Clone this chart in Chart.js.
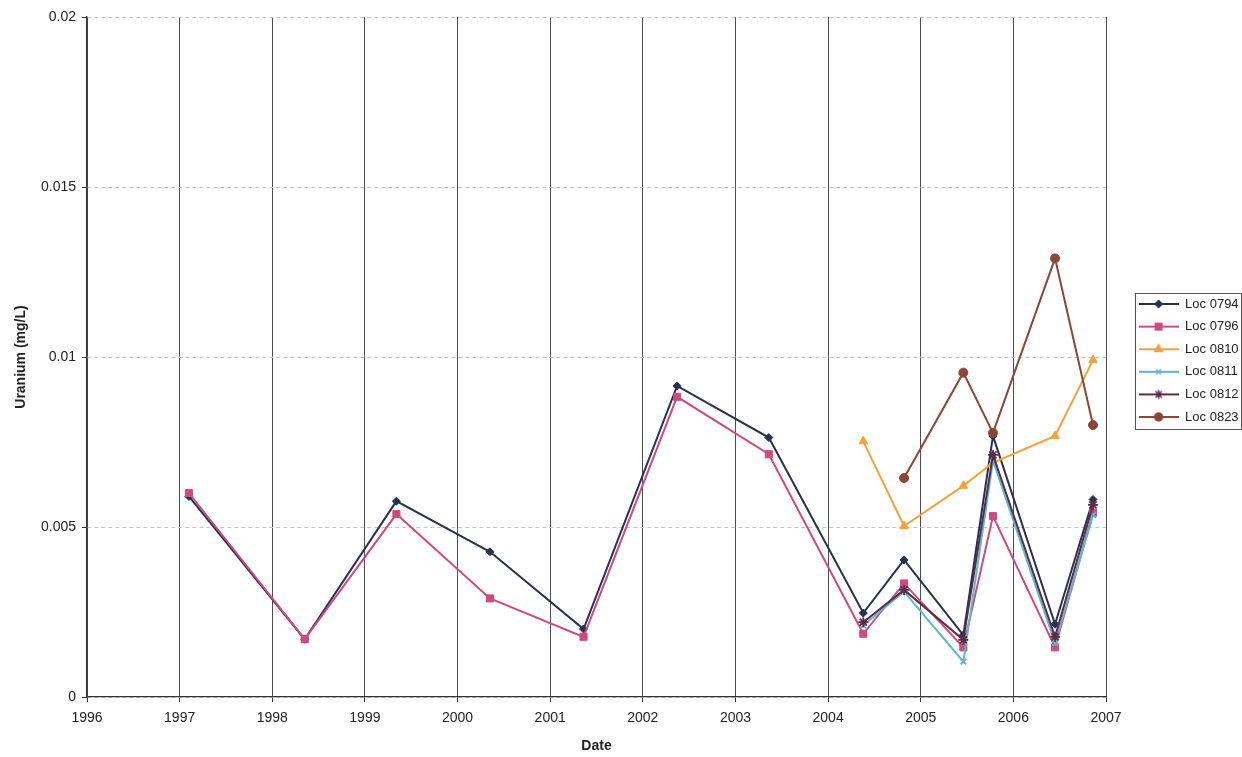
<!DOCTYPE html>
<html>
<head>
<meta charset="utf-8">
<title>Uranium concentration</title>
<script src="https://cdn.jsdelivr.net/npm/chart.js@4.4.1/dist/chart.umd.min.js"></script>
<style>
  html, body { margin: 0; padding: 0; background: #ffffff; }
  #wrap { width: 1242px; height: 757px; }
</style>
</head>
<body>
<div id="wrap"><canvas id="uraniumChart" width="1242" height="757"></canvas></div>
<script>
// sampling dates, decimal years
const sampleDates = [1997.1, 1998.35, 1999.34, 2000.35, 2001.36, 2002.37, 2003.36, 2004.38, 2004.82, 2005.46, 2005.78, 2006.45, 2006.86];

// uranium, mg/L (null = not sampled)
const loc0794 = [0.0059, 0.0017, 0.00576, 0.00427, 0.0020, 0.00915, 0.00763, 0.00247, 0.00403, 0.00182, 0.00768, 0.00214, 0.00581];
const loc0796 = [0.0060, 0.0017, 0.00538, 0.0029, 0.00177, 0.00883, 0.00714, 0.00186, 0.00334, 0.00146, 0.00532, 0.00146, 0.00542];
const loc0810 = [null, null, null, null, null, null, null, 0.00752, 0.00503, 0.00621, 0.00689, 0.00768, 0.00991];
const loc0811 = [null, null, null, null, null, null, null, 0.0021, 0.0031, 0.00104, 0.00695, 0.00159, 0.00535];
const loc0812 = [null, null, null, null, null, null, null, 0.0022, 0.00315, 0.00168, 0.00712, 0.00177, 0.00565];
const loc0823 = [null, null, null, null, null, null, null, null, 0.00644, 0.00954, 0.00777, 0.0129, 0.0080];

const seriesNames = ['Loc 0794', 'Loc 0796', 'Loc 0810', 'Loc 0811', 'Loc 0812', 'Loc 0823'];
const seriesValues = [loc0794, loc0796, loc0810, loc0811, loc0812, loc0823];
const seriesColors = ['#27314f', '#cf4a7e', '#f2a33c', '#5cb8cc', '#5a2c48', '#8a4636'];
const seriesMarkers = ['rectRot', 'rect', 'triangle', 'crossRot', 'star', 'circle'];
const markerSizes = [4, 5, 5, 4, 5, 4.5];

const FONT = '"Liberation Sans", Arial, sans-serif';

function makeLegendIcon(color, style, radius) {
    const c = document.createElement('canvas');
    c.width = 40;
    c.height = 14;
    const g = c.getContext('2d');
    g.strokeStyle = color;
    g.lineWidth = 2;
    g.beginPath();
    g.moveTo(0, 7);
    g.lineTo(40, 7);
    g.stroke();
    g.fillStyle = color;
    g.lineWidth = 1.5;
    Chart.helpers.drawPoint(g, { pointStyle: style, radius: radius, rotation: 0, borderWidth: 1.5 }, 20, 7);
    return c;
}

const legendIcons = seriesNames.map((n, i) => makeLegendIcon(seriesColors[i], seriesMarkers[i], markerSizes[i] - 0.5));

const datasets = seriesNames.map((name, i) => ({
    label: name,
    data: sampleDates
        .map((d, j) => ({ x: d, y: seriesValues[i][j] }))
        .filter(p => p.y !== null),
    borderColor: seriesColors[i],
    backgroundColor: seriesColors[i],
    pointBackgroundColor: seriesColors[i],
    pointBorderColor: seriesColors[i],
    pointStyle: seriesMarkers[i],
    pointRadius: markerSizes[i],
    pointBorderWidth: seriesMarkers[i] === 'crossRot' || seriesMarkers[i] === 'star' ? 1.8 : 1,
    borderWidth: 2,
    tension: 0,
    fill: false,
    order: seriesNames.length - i
}));

// legend placement + frame, Excel-like
const legendLayout = {
    id: 'legendLayout',
    beforeInit(chart) {
        const origFit = chart.legend.fit;
        chart.legend.fit = function () {
            origFit.call(this);
            this.width = 136;
        };
    },
    afterLayout(chart) {
        const lg = chart.legend;
        const area = chart.chartArea;
        const w = lg.width;
        lg.left = area.right + 23;
        lg.right = lg.left + w;
        const shift = (area.top + area.bottom) / 2 + 3.5 - (lg.top + lg.bottom) / 2;
        lg.top += shift;
        lg.bottom += shift;
    },
    afterDraw(chart) {
        const boxes = chart.legend.legendHitBoxes;
        if (!boxes || !boxes.length) return;
        let l = Infinity, t = Infinity, r = -Infinity, b = -Infinity;
        boxes.forEach(h => {
            l = Math.min(l, h.left);
            t = Math.min(t, h.top);
            r = Math.max(r, h.left + h.width);
            b = Math.max(b, h.top + h.height);
        });
        const ctx = chart.ctx;
        ctx.save();
        ctx.strokeStyle = '#555';
        ctx.lineWidth = 1;
        const right = Math.min(r + 3, chart.width - 1.5);
        ctx.strokeRect(Math.round(l - 4) + 0.5, Math.round(t - 5) + 0.5, Math.round(right - l + 4), Math.round(b - t + 10));
        ctx.restore();
    }
};

const ctx = document.getElementById('uraniumChart').getContext('2d');

const chart = new Chart(ctx, {
    type: 'line',
    data: { datasets: datasets },
    options: {
        responsive: false,
        animation: false,
        devicePixelRatio: 1,
        layout: { padding: { top: 17, left: 0, right: 0, bottom: 0 } },
        plugins: {
            legend: {
                position: 'right',
                labels: {
                    usePointStyle: true,
                    pointStyleWidth: 40,
                    padding: 9.6,
                    color: '#222',
                    font: { family: FONT, size: 13 },
                    generateLabels(chart) {
                        return chart.data.datasets.map((ds, i) => ({
                            text: ds.label,
                            fillStyle: ds.borderColor,
                            strokeStyle: ds.borderColor,
                            lineWidth: 0,
                            pointStyle: legendIcons[i],
                            hidden: !chart.isDatasetVisible(i),
                            datasetIndex: i,
                            fontColor: '#222'
                        }));
                    }
                }
            },
            tooltip: { enabled: false }
        },
        scales: {
            x: {
                type: 'linear',
                min: 1996,
                max: 2007,
                ticks: {
                    stepSize: 1,
                    padding: 8,
                    color: '#222',
                    font: { family: FONT, size: 14 },
                    callback: v => String(v)
                },
                grid: { color: '#4d4d4d', lineWidth: 1, tickLength: 5, tickColor: '#333' },
                border: { color: '#333', width: 1.3 },
                title: {
                    display: true,
                    text: 'Date',
                    color: '#222',
                    font: { family: FONT, size: 14, weight: 'bold' },
                    padding: { top: 2, bottom: 2 }
                },
                afterFit(scale) { scale.height = 60; }
            },
            y: {
                min: 0,
                max: 0.02,
                ticks: {
                    stepSize: 0.005,
                    padding: 6,
                    color: '#222',
                    font: { family: FONT, size: 14 },
                    callback: v => String(parseFloat(v.toFixed(4)))
                },
                grid: { color: '#c4c4c4', lineWidth: 1, tickLength: 5, tickColor: '#333' },
                border: { color: '#333', width: 1.3, dash: [4, 3] },
                title: {
                    display: true,
                    text: 'Uranium (mg/L)',
                    color: '#222',
                    font: { family: FONT, size: 14, weight: 'bold' },
                    padding: { top: 13, bottom: 4 }
                },
                afterFit(scale) { scale.width = 87; }
            }
        }
    },
    plugins: [legendLayout]
});
</script>
</body>
</html>
